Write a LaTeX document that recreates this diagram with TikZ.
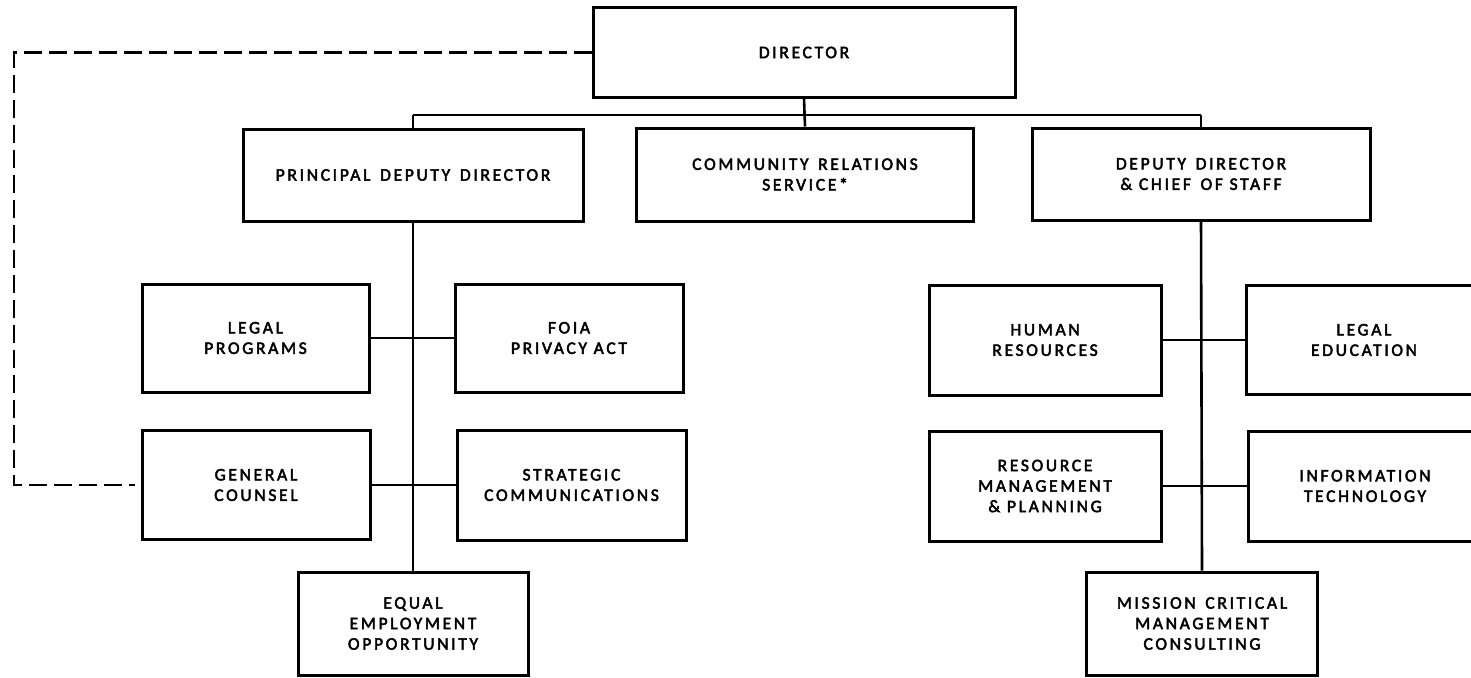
\documentclass[tikz,border=0pt]{standalone}
\usepackage{fontspec}
\setmainfont{Carlito}[LetterSpace=15,FakeBold=2.6]
\begin{document}
\begin{tikzpicture}[x=1pt,y=-1pt,
  box/.style={draw=black, line width=3pt, fill=white, inner sep=0pt, align=center,
    font=\fontsize{17.6}{20.5}\selectfont},
  link/.style={draw=black, line width=2pt},
  stem/.style={draw=black, line width=2.6pt},
  dashlink/.style={draw=black, line width=2.6pt, dash pattern=on 18pt off 7pt}]
\path[use as bounding box, clip] (0,0) rectangle (1471,677);
\fill[white] (0,0) rectangle (1471,677);

% top level
\node[box, minimum width=422pt, minimum height=89pt] (dir) at (804,52.5) {DIRECTOR};
\node[box, minimum width=340pt, minimum height=92pt] (pdd) at (413,175) {PRINCIPAL\hspace{3pt} DEPUTY\hspace{3pt} DIRECTOR};
\node[box, minimum width=337pt, minimum height=93pt] (crs) at (805,174.5) {COMMUNITY\hspace{3pt} RELATIONS\\SERVICE*};
\node[box, minimum width=338pt, minimum height=92pt] (dd) at (1201,174) {DEPUTY\hspace{3pt} DIRECTOR\\\&\ CHIEF\hspace{3pt} OF STAFF};

% left branch
\node[box, minimum width=227pt, minimum height=108pt] (lp) at (255.5,338) {LEGAL\\PROGRAMS};
\node[box, minimum width=228pt, minimum height=108pt] (foia) at (569,338) {FOIA\\PRIVACY ACT};
\node[box, minimum width=228pt, minimum height=109pt] (gc) at (256,485) {GENERAL\\COUNSEL};
\node[box, minimum width=229pt, minimum height=110pt] (sc) at (571.5,485) {STRATEGIC\\COMMUNICATIONS};
\node[box, minimum width=230pt, minimum height=103pt] (eeo) at (413,623.5) {EQUAL\\EMPLOYMENT\\OPPORTUNITY};

% right branch
\node[box, minimum width=232pt, minimum height=110pt] (hr) at (1045,340) {HUMAN\\RESOURCES};
\node[box, minimum width=236pt, minimum height=109pt] (le) at (1364,340) {LEGAL\\EDUCATION};
\node[box, minimum width=232pt, minimum height=110pt] (rmp) at (1045,486) {RESOURCE\\MANAGEMENT\\\&\ PLANNING};
\node[box, minimum width=234pt, minimum height=110pt] (it) at (1365,486) {INFORMATION\\TECHNOLOGY};
\node[box, minimum width=231pt, minimum height=103pt] (mc) at (1202,623.5) {MISSION\hspace{3pt} CRITICAL\\MANAGEMENT\\CONSULTING};

% connectors
\coordinate (busL) at (413,115);
\coordinate (busR) at (1201,115);
\coordinate (dcorner) at (14,52.5);

\draw[link] (busL) -- (busR);
\draw[stem] (dir.south) -- (crs.north);
\draw[link] (busL) -- (pdd.north);
\draw[link] (busR) -- (dd.north);
\draw[stem] (pdd.south) -- (eeo.north);
\draw[stem] (dd.south) -- (mc.north);
\draw[link] (lp.east) -- (foia.west);
\draw[link] (gc.east) -- (sc.west);
\draw[link] (hr.east) -- (le.west);
\draw[link] (rmp.east) -- (it.west);
\draw[dashlink, shorten >=6pt] (dir.west) -- (dcorner) |- (gc.west);
\end{tikzpicture}
\end{document}
